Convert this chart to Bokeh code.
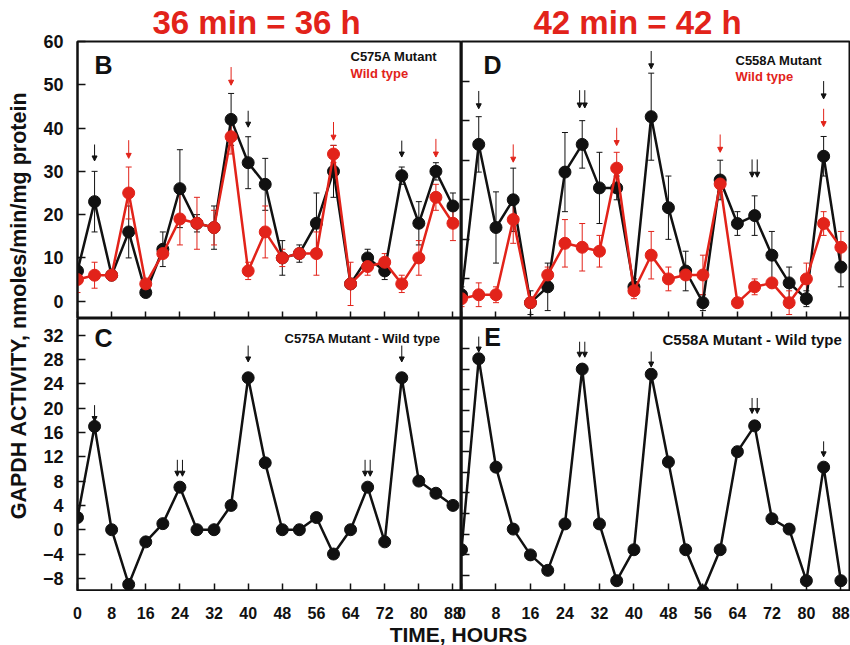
import math
from bokeh.plotting import figure
from bokeh.models import (Range1d, FixedTicker, ColumnDataSource, Whisker, TeeHead,
                          Arrow, NormalHead, Label, CustomLabelingPolicy)
from bokeh.layouts import row, column
from bokeh.embed import file_html
from bokeh.resources import INLINE

# ---------------- data ----------------
hours = [0, 4, 8, 12, 16, 20, 24, 28, 32, 36, 40, 44, 48, 52, 56, 60, 64, 68, 72, 76, 80, 84, 88]
hour_ticks = [0, 8, 16, 24, 32, 40, 48, 56, 64, 72, 80, 88]
hour_tick_labels = ["0", "8", "16", "24", "32", "40", "48", "56", "64", "72", "80", "88"]

title_left = "36 min = 36 h"
title_right = "42 min = 42 h"
y_label = "GAPDH ACTIVITY, nmoles/min/mg protein"
x_label = "TIME, HOURS"

# Panel B: C575A mutant and wild type
b_mut = [7, 23, 6, 16, 2, 12, 26, 18, 17, 42, 32, 27, 10, 11, 18, 30, 4, 10, 7, 29, 18, 30, 22]
b_mut_err = [3, 7, 1, 6, 1, 4, 9, 2, 5, 6, 6, 6, 4, 2, 7, 6, 0, 2, 2, 2, 5, 2, 3]
b_wt = [5, 6, 6, 25, 4, 11, 19, 18, 17, 38, 7, 16, 10, 11, 11, 34, 4, 8, 9, 4, 10, 24, 18]
b_wt_err = [3, 3, 1, 6, 1, 1, 6, 6, 4, 4, 2, 6, 2, 1, 5, 2, 5, 2, 2, 2, 4, 3, 4]
b_yticks = [0, 10, 20, 30, 40, 50, 60]
b_ytick_labels = ["0", "10", "20", "30", "40", "50", "60"]
b_arrow_mut_x = [4, 40, 76]
b_arrow_mut_tip = [32.4, 40.2, 33.3]
b_arrow_wt_x = [12, 36, 60, 84]
b_arrow_wt_tip = [33.0, 49.9, 37.2, 33.3]

# Panel C: C575A mutant - wild type
c_diff = [2, 17, 0, -9, -2, 1, 7, 0, 0, 4, 25, 11, 0, 0, 2, -4, 0, 7, -2, 25, 8, 6, 4]
c_yticks = [-8, -4, 0, 4, 8, 12, 16, 20, 24, 28, 32]
c_ytick_labels = ["\u22128", "\u22124", "0", "4", "8", "12", "16", "20", "24", "28", "32"]
c_arrow_x = [4, 40, 76]
c_arrow_tip = [17.8, 27.6, 27.6]
c_double_x = [24, 68]
c_double_tip = [8.8, 8.8]

# Panel D: C558A mutant and wild type
d_mut = [6, 44, 23, 30, 4, 8, 37, 44, 33, 33, 8, 51, 28, 12, 4, 35, 24, 26, 16, 9, 5, 41, 13]
d_mut_err = [2, 7, 9, 8, 3, 6, 10, 6, 9, 3, 2, 11, 8, 5, 2, 5, 3, 5, 6, 4, 2, 5, 5]
d_wt = [5, 6, 6, 25, 4, 11, 19, 18, 17, 38, 7, 16, 10, 11, 11, 34, 4, 8, 9, 4, 10, 24, 18]
d_wt_err = [2, 3, 2, 6, 1, 2, 6, 6, 4, 4, 2, 6, 3, 1, 5, 2, 1, 2, 1, 3, 4, 3, 4]
d_yticks = [10, 20, 30, 40, 50, 60]
d_arrow_mut_x = [4, 44, 84]
d_arrow_mut_tip = [53.0, 63.1, 55.5]
d_double_x = [28, 68]
d_double_tip = [53.2, 35.7]
d_arrow_wt_x = [12, 36, 60, 84]
d_arrow_wt_tip = [39.5, 43.7, 42.0, 48.5]

# Panel E: C558A mutant - wild type
e_diff = [-3, 34, 13, 1, -4, -7, 2, 32, 2, -9, -3, 31, 14, -3, -11, -3, 16, 21, 3, 1, -9, 13, -9]
e_yticks = [-8, -4, 0, 4, 8, 12, 16, 20, 24, 28, 32, 36]
e_arrow_x = [4, 44, 84]
e_arrow_tip = [35.3, 32.4, 15.0]
e_double_x = [28, 68]
e_double_tip = [34.3, 23.4]

# ---------------- style / layout ----------------
FONT = "Liberation Sans"
BLACK = "#111111"
RED = "#e2231a"
XR = (0, 90)
B_YR = (-4, 60)
C_YR = (-10, 34.75)
D_YR = (0, 70)
E_YR = (-10.9, 41.8)

LABEL_W = 36
LEFT_BORDER = 41
LEFT_W = 425
RIGHT_W = 389
TOP_H = 318
TOP_BORDER = 41
BOT_H = 273
STRIP_H = 54
TOTAL_W = 850
TOTAL_H = 645

# frame geometry (page pixels) used to place texts
FR_B = (LABEL_W + LEFT_BORDER, TOP_BORDER, LEFT_W - LEFT_BORDER, TOP_H - TOP_BORDER)
FR_D = (LABEL_W + LEFT_W, TOP_BORDER, RIGHT_W - 1, TOP_H - TOP_BORDER)
FR_C = (LABEL_W + LEFT_BORDER, TOP_H, LEFT_W - LEFT_BORDER, BOT_H - 1)
FR_E = (LABEL_W + LEFT_W, TOP_H, RIGHT_W - 1, BOT_H - 1)


def to_data(fr, yr, px, py):
    left, top, w, h = fr
    x = XR[0] + (px - left) / w * (XR[1] - XR[0])
    y = yr[1] - (py - top) / h * (yr[1] - yr[0])
    return x, y


def hide_labels(ax):
    # keep the tick marks, draw no tick labels at all
    ax.major_label_text_font_size = "0px"
    ax.major_label_standoff = 0
    ax.major_label_policy = CustomLabelingPolicy(code="return []")


def make_panel(width, height, yr, yticks, border_left, border_top, border_bottom, border_right,
               ytick_labels=None, title=None, title_offset=0):
    p = figure(width=width, height=height, x_range=Range1d(*XR), y_range=Range1d(*yr),
               output_backend="svg", toolbar_location=None,
               min_border_left=border_left, min_border_right=border_right,
               min_border_top=border_top, min_border_bottom=border_bottom,
               title=title)
    p.grid.visible = False
    p.outline_line_color = BLACK
    p.outline_line_width = 2
    p.background_fill_color = "white"
    p.border_fill_color = "white"
    if title:
        p.title.text_font = FONT
        p.title.text_font_size = "33px"
        p.title.text_font_style = "bold"
        p.title.text_color = RED
        p.title.align = "left"
        p.title.offset = title_offset
        p.title.standoff = 1
    xa = p.xaxis[0]
    xa.ticker = FixedTicker(ticks=hour_ticks)
    xa.major_tick_in = 7
    xa.major_tick_out = 0
    xa.minor_tick_line_color = None
    xa.major_tick_line_width = 1.5
    xa.major_tick_line_color = BLACK
    xa.axis_line_width = 2
    xa.axis_line_color = BLACK
    hide_labels(xa)
    ya = p.yaxis[0]
    ya.ticker = FixedTicker(ticks=yticks)
    ya.major_tick_in = 8
    ya.major_tick_out = 0
    ya.minor_tick_line_color = None
    ya.major_tick_line_width = 1.5
    ya.major_tick_line_color = BLACK
    ya.axis_line_width = 2
    ya.axis_line_color = BLACK
    if ytick_labels is None:
        hide_labels(ya)
    else:
        ya.major_label_overrides = {t: s for t, s in zip(yticks, ytick_labels)}
        ya.major_label_text_font = FONT
        ya.major_label_text_font_style = "bold"
        ya.major_label_text_font_size = "18px"
        ya.major_label_text_color = BLACK
        ya.major_label_standoff = 14
    return p


def add_series(p, y, err, color):
    src = ColumnDataSource(dict(x=hours, y=y,
                                upper=[a + b for a, b in zip(y, err)],
                                lower=[a - b for a, b in zip(y, err)]))
    p.add_layout(Whisker(source=src, base="x", upper="upper", lower="lower",
                         line_color=color, line_width=1, level="underlay",
                         upper_head=TeeHead(size=6, line_color=color, line_width=1),
                         lower_head=TeeHead(size=6, line_color=color, line_width=1)))
    p.line("x", "y", source=src, line_color=color, line_width=2.5)
    p.scatter("x", "y", source=src, marker="circle", size=12,
              fill_color=color, line_color=color)


def add_line(p, y, color):
    src = ColumnDataSource(dict(x=hours, y=y))
    p.line("x", "y", source=src, line_color=color, line_width=2.5)
    p.scatter("x", "y", source=src, marker="circle", size=12,
              fill_color=color, line_color=color)


def add_arrows(p, xs, tips, length, color, double=False):
    gap = 0.6
    xx, yy = [], []
    for x, t in zip(xs, tips):
        offs = (-gap, gap) if double else (0,)
        for o in offs:
            xx.append(x + o)
            yy.append(t)
    src = ColumnDataSource(dict(x=xx, tip=yy, tail=[t + length for t in yy]))
    p.add_layout(Arrow(source=src, x_start="x", y_start="tail", x_end="x", y_end="tip",
                       line_color=color, line_width=1,
                       end=NormalHead(size=5, fill_color=color, line_color=color,
                                      line_width=1)))


def add_text(p, fr, yr, px, py, text, size, color=BLACK, align="left"):
    x, y = to_data(fr, yr, px, py)
    p.add_layout(Label(x=x, y=y, text=text, text_font=FONT, text_font_size=size,
                       text_font_style="bold", text_color=color, text_align=align,
                       text_baseline="middle"))


# ---------------- panels ----------------
pB = make_panel(LEFT_W, TOP_H, B_YR, b_yticks, LEFT_BORDER, TOP_BORDER, 0, 0,
                ytick_labels=b_ytick_labels, title=title_left, title_offset=75)
add_series(pB, b_mut, b_mut_err, BLACK)
add_series(pB, b_wt, b_wt_err, RED)
add_arrows(pB, b_arrow_mut_x, b_arrow_mut_tip, 3.8, BLACK)
add_arrows(pB, b_arrow_wt_x, b_arrow_wt_tip, 4.2, RED)
add_text(pB, FR_B, B_YR, 103, 64, "B", "25px", align="center")
add_text(pB, FR_B, B_YR, 350, 56, "C575A Mutant", "13px")
add_text(pB, FR_B, B_YR, 350, 72.5, "Wild type", "13px", color=RED)

pD = make_panel(RIGHT_W, TOP_H, D_YR, d_yticks, 0, TOP_BORDER, 0, 1,
                title=title_right, title_offset=72)
add_series(pD, d_mut, d_mut_err, BLACK)
add_series(pD, d_wt, d_wt_err, RED)
add_arrows(pD, d_arrow_mut_x, d_arrow_mut_tip, 4.5, BLACK)
add_arrows(pD, d_double_x, d_double_tip, 4.5, BLACK, double=True)
add_arrows(pD, d_arrow_wt_x, d_arrow_wt_tip, 4.5, RED)
add_text(pD, FR_D, D_YR, 492, 64, "D", "25px", align="center")
add_text(pD, FR_D, D_YR, 735, 59.5, "C558A Mutant", "13px")
add_text(pD, FR_D, D_YR, 735, 75.5, "Wild type", "13px", color=RED)

pC = make_panel(LEFT_W, BOT_H, C_YR, c_yticks, LEFT_BORDER, 0, 1, 0,
                ytick_labels=c_ytick_labels)
add_line(pC, c_diff, BLACK)
add_arrows(pC, c_arrow_x, c_arrow_tip, 2.7, BLACK)
add_arrows(pC, c_double_x, c_double_tip, 2.7, BLACK, double=True)
add_text(pC, FR_C, C_YR, 103, 337, "C", "25px", align="center")
add_text(pC, FR_C, C_YR, 284, 337.5, "C575A Mutant - Wild type", "13px")

pE = make_panel(RIGHT_W, BOT_H, E_YR, e_yticks, 0, 0, 1, 1)
add_line(pE, e_diff, BLACK)
add_arrows(pE, e_arrow_x, e_arrow_tip, 3.0, BLACK)
add_arrows(pE, e_double_x, e_double_tip, 3.0, BLACK, double=True)
add_text(pE, FR_E, E_YR, 492, 336, "E", "25px", align="center")
add_text(pE, FR_E, E_YR, 662, 339, "C558A Mutant - Wild type", "15px")

# ---------------- shared x tick labels and axis title ----------------
STRIP_LEFT = LABEL_W + 30
tick_pos, tick_text = [], []
for fr in (FR_C, FR_E):
    left, top, w, h = fr
    for t, s in zip(hour_ticks, hour_tick_labels):
        tick_pos.append(round(left + (t - XR[0]) / (XR[1] - XR[0]) * w, 3))
        tick_text.append(s)

strip = figure(width=TOTAL_W - LABEL_W, height=STRIP_H,
               x_range=Range1d(STRIP_LEFT, TOTAL_W), y_range=Range1d(0, 1),
               output_backend="svg", toolbar_location=None, y_axis_type=None,
               min_border_left=STRIP_LEFT - LABEL_W, min_border_right=0,
               min_border_top=0, min_border_bottom=STRIP_H - 1)
strip.grid.visible = False
strip.outline_line_color = None
sa = strip.xaxis[0]
sa.ticker = FixedTicker(ticks=tick_pos)
sa.major_label_overrides = {p_: s for p_, s in zip(tick_pos, tick_text)}
sa.axis_line_color = None
sa.major_tick_line_color = None
sa.minor_tick_line_color = None
sa.major_label_standoff = 9
sa.major_label_text_font = FONT
sa.major_label_text_font_style = "bold"
sa.major_label_text_font_size = "16px"
sa.major_label_text_color = BLACK
sa.axis_label = x_label
sa.axis_label_text_font = FONT
sa.axis_label_text_font_style = "bold"
sa.axis_label_text_font_size = "21px"
sa.axis_label_text_color = BLACK
sa.axis_label_standoff = 1

# ---------------- y axis title ----------------
ylab = figure(width=LABEL_W, height=TOTAL_H, x_range=Range1d(0, LABEL_W),
              y_range=Range1d(0, TOTAL_H),
              output_backend="svg", toolbar_location=None, x_axis_type=None, y_axis_type=None,
              min_border_left=0, min_border_right=0, min_border_top=0, min_border_bottom=0)
ylab.grid.visible = False
ylab.outline_line_color = None
ylab.add_layout(Label(x=18, y=TOTAL_H - 305, text=y_label, angle=math.pi / 2,
                      text_font=FONT, text_font_size="21.5px", text_font_style="bold",
                      text_color=BLACK, text_align="center", text_baseline="middle"))

layout = row(ylab, column(row(pB, pD), row(pC, pE), strip))

with open("out.html", "w") as f:
    f.write(file_html(layout, INLINE))
